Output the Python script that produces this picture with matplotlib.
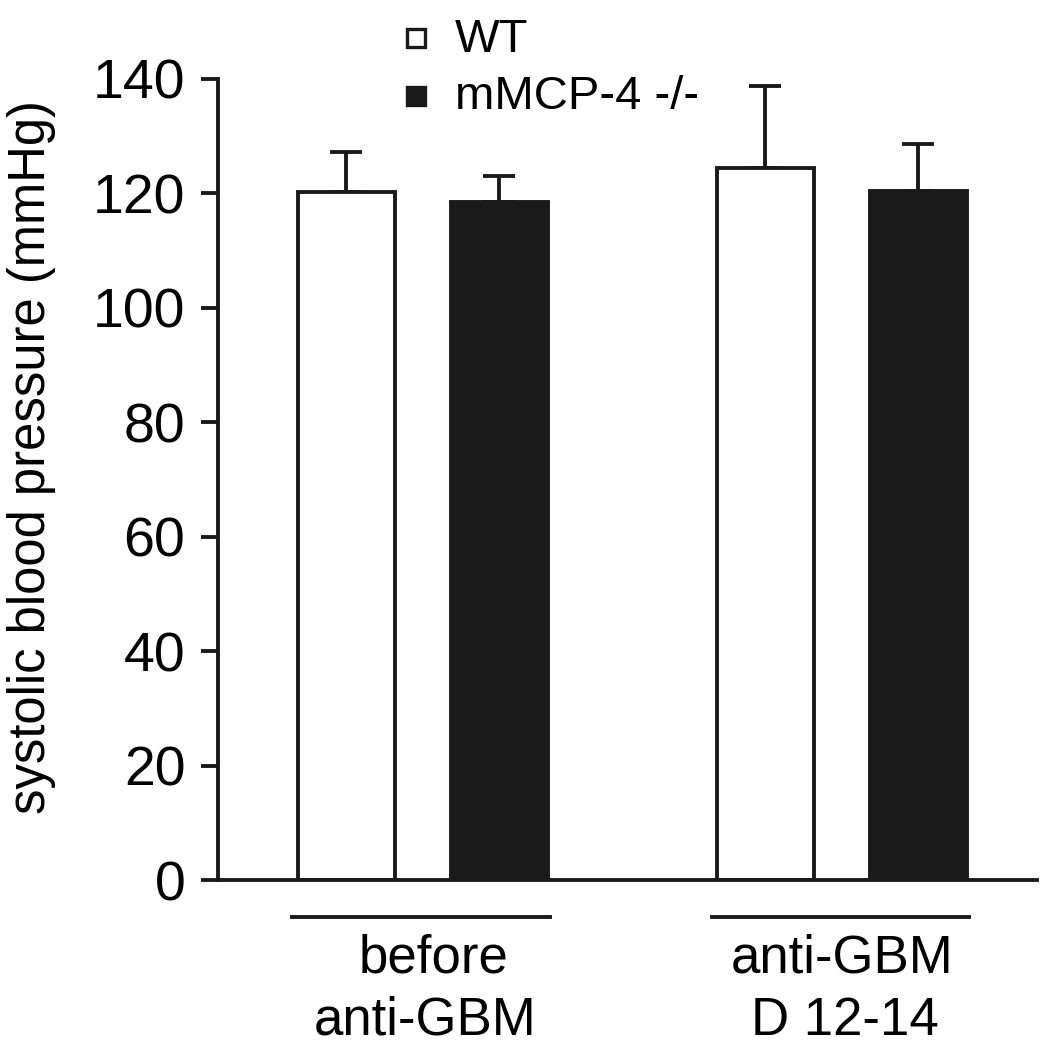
import matplotlib
matplotlib.use("Agg")
import matplotlib.pyplot as plt
from matplotlib.transforms import blended_transform_factory
from matplotlib.lines import Line2D

plt.rcParams['font.family'] = ['Liberation Sans', 'DejaVu Sans']

groups = ["before\nanti-GBM", "anti-GBM\nD 12-14"]
series = ["WT", "mMCP-4 -/-"]
wt_mean = [120.3, 124.5]
wt_err = [7.0, 14.2]
ko_mean = [118.5, 120.4]
ko_err = [4.6, 8.3]

BLACK = "#1a1a1a"
LW = 2.8
fig = plt.figure(figsize=(10.48, 10.50), dpi=100)
ax = fig.add_axes([0.208, 0.1619, 0.7815, 0.7629])

gsep = 2.74
width = 0.634
centers = [i * gsep + 0.5 for i in range(len(groups))]
wt_x = [c - 0.5 for c in centers]
ko_x = [c + 0.5 for c in centers]

ax.bar(wt_x, wt_mean, width, color="white", edgecolor=BLACK, linewidth=LW, zorder=2)
ax.bar(ko_x, ko_mean, width, color=BLACK, edgecolor=BLACK, linewidth=LW, zorder=2)
ax.errorbar(wt_x, wt_mean, yerr=[[0] * 2, wt_err], fmt="none", ecolor=BLACK,
            elinewidth=LW, capsize=11.5, capthick=LW, zorder=1)
ax.errorbar(ko_x, ko_mean, yerr=[[0] * 2, ko_err], fmt="none", ecolor=BLACK,
            elinewidth=LW, capsize=11.5, capthick=LW, zorder=1)

ax.set_ylim(0, 140)
ax.set_xlim(-0.837, 4.516)
ax.set_yticks(range(0, 141, 20))
ax.set_xticks([])
for s in ["top", "right"]:
    ax.spines[s].set_visible(False)
for s in ["left", "bottom"]:
    ax.spines[s].set_linewidth(LW)
    ax.spines[s].set_color(BLACK)
ax.tick_params(axis="y", length=12.5, width=LW, color=BLACK, labelsize=40, pad=11)

fig.text(32 / 1048, 1 - 457 / 1050, "systolic blood pressure (mmHg)", fontsize=36.5,
         rotation=90, ha="center", va="center")

trans = blended_transform_factory(ax.transData, ax.transAxes)
line1_off = [0.07, 0.0]
line2_off = [0.02, 0.02]
for c, g, o1, o2 in zip(centers, groups, line1_off, line2_off):
    ax.add_line(Line2D([c - 0.85, c + 0.83], [-0.046, -0.046], transform=trans,
                       color=BLACK, linewidth=LW, clip_on=False))
    l1, l2 = g.split("\n")
    ax.text(c + o1, -0.098, l1, transform=trans, ha="center", va="center", fontsize=38)
    ax.text(c + o2, -0.176, l2, transform=trans, ha="center", va="center", fontsize=38)

# legend
leg_ax = fig.add_axes([0, 0, 1, 1], facecolor="none")
leg_ax.set_xlim(0, 1048)
leg_ax.set_ylim(1050, 0)
leg_ax.axis("off")
leg_ax.plot([416], [38], marker="s", markersize=13, markerfacecolor="white",
            markeredgecolor=BLACK, markeredgewidth=2.4, linestyle="none")
leg_ax.plot([416], [96], marker="s", markersize=13, markerfacecolor=BLACK,
            markeredgecolor=BLACK, markeredgewidth=2.4, linestyle="none")
leg_ax.text(455, 40, series[0], fontsize=34, va="center", ha="left")
leg_ax.text(455, 97, series[1], fontsize=34, va="center", ha="left")

fig.savefig("out.png", dpi=100, facecolor="white")
